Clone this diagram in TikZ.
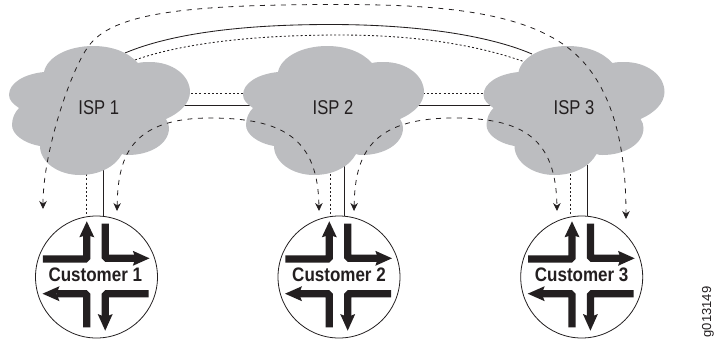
\documentclass[tikz,border=0pt]{standalone}
\usepackage{fontspec}
\setmainfont{Liberation Sans}
\usetikzlibrary{arrows.meta}
\definecolor{cloudgray}{RGB}{188,189,192}
\definecolor{inkblack}{RGB}{35,31,32}
\tikzset{
  solidlink/.style={draw=inkblack,line width=.85pt},
  dotlink/.style={draw=inkblack,line width=.85pt,dash pattern=on 2pt off 2.2pt},
  flow/.style={draw=inkblack,line width=.8pt,dash pattern=on 5pt off 5.5pt},
  bothtips/.style={{Stealth[length=8pt,width=7.5pt]}-{Stealth[length=8pt,width=7.5pt]}},
  custcircle/.style={circle,draw=inkblack,line width=.8pt,fill=white,minimum size=122pt,inner sep=0pt},
  bar/.style={draw=inkblack,line width=7.2pt,rounded corners=1.5pt},
  isplabel/.style={text=inkblack,inner sep=0pt,font=\fontsize{20}{20}\selectfont},
  custlabel/.style={text=inkblack,inner sep=0pt,font=\fontsize{17}{17}\selectfont\bfseries},
}
\newcommand{\cloudshape}[1]{%
  \begin{scope}[xshift=#1pt]
  \fill[cloudgray] (44,72) .. controls (47,57) and (68,46) .. (93,46)
    .. controls (112,46) and (128,52) .. (138,63)
    .. controls (142,62) and (146,62) .. (150,62)
    .. controls (172,62) and (190,75) .. (190,92)
    .. controls (190,103) and (180,113) .. (166,119)
    .. controls (168,122) and (169,125) .. (169,128)
    .. controls (169,144) and (150,155) .. (128,155)
    .. controls (126,155) and (124,155) .. (122,154)
    .. controls (115,167) and (99,175) .. (80,175)
    .. controls (58,175) and (40,162) .. (40,146)
    .. controls (23,143) and (12,134) .. (12,125)
    .. controls (12,118) and (15,112) .. (19,108)
    .. controls (13,104) and (9,100) .. (9,95)
    .. controls (9,83) and (24,74) .. (44,72) -- cycle;
  \end{scope}}
\newcommand{\routerarrows}[2]{%
  \begin{scope}[shift={(#1,#2)}]
  \draw[bar] (-53.7,-18) -| (-9.7,-44);
  \fill[inkblack] (-9.7,-55.7) -- (-2.2,-39.7) -- (-9.7,-42) -- (-17.2,-39.7) -- cycle;
  \draw[bar] (8.7,-53.3) |- (40,-18.7);
  \fill[inkblack] (53,-18.7) -- (36.3,-26.2) -- (39,-18.7) -- (36.3,-11.2) -- cycle;
  \draw[bar] (-9.7,50.3) |- (-40,16.7);
  \fill[inkblack] (-54,16.7) -- (-37,9.2) -- (-40,16.7) -- (-37,24.2) -- cycle;
  \draw[bar] (52,16.7) -| (8.7,40);
  \fill[inkblack] (8.7,53.7) -- (1.2,37) -- (8.7,40) -- (16.2,37) -- cycle;
  \end{scope}}
\begin{document}
\begin{tikzpicture}[x=1pt,y=-1pt]
\useasboundingbox (0,0) rectangle (714,341);
% anchors inside the clouds and free ends
\coordinate (a1) at (125,53);   \coordinate (a3) at (532,54);
\coordinate (b1) at (135,60);   \coordinate (b3) at (525,62);
\coordinate (h1r) at (170,105.5); \coordinate (h2l) at (260,105.5);
\coordinate (h2r) at (410,105.5); \coordinate (h3l) at (500,105.5);
\coordinate (d1r) at (170,93.5); \coordinate (d2l) at (260,93.5);
\coordinate (d2r) at (410,93.5); \coordinate (d3l) at (500,93.5);
\coordinate (u1s) at (103.5,165); \coordinate (u1d) at (86.5,170);
\coordinate (u2s) at (344.7,165); \coordinate (u2d) at (330.7,170);
\coordinate (u3s) at (587.3,165); \coordinate (u3d) at (570.7,170);
\coordinate (f0s) at (43,209);  \coordinate (f0e) at (626,219);
\coordinate (f1s) at (117,211); \coordinate (f1e) at (319,211);
\coordinate (f2s) at (354,211); \coordinate (f2e) at (557,211);
% customer circles
\node[custcircle] (c1) at (96.5,277) {};
\node[custcircle] (c2) at (339,277) {};
\node[custcircle] (c3) at (581.7,277) {};
% links behind the clouds
\draw[solidlink] (a1) .. controls (170,34) and (240,24.5) .. (330,24.5)
  .. controls (420,24.5) and (490,36) .. (a3);
\draw[dotlink] (b1) .. controls (180,44) and (250,35) .. (340,35)
  .. controls (420,35) and (480,46) .. (b3);
\draw[solidlink] (h1r) -- (h2l);
\draw[solidlink] (h2r) -- (h3l);
\draw[dotlink] (d1r) -- (d2l);
\draw[dotlink] (d2r) -- (d3l);
\draw[solidlink] (u1s) -- (u1s |- c1.north);
\draw[dotlink] (u1d) -- (u1d |- c1.north);
\draw[solidlink] (u2s) -- (u2s |- c2.north);
\draw[dotlink] (u2d) -- (u2d |- c2.north);
\draw[solidlink] (u3s) -- (u3s |- c3.north);
\draw[dotlink] (u3d) -- (u3d |- c3.north);
% clouds
\cloudshape{0}
\cloudshape{234}
\cloudshape{474.5}
\node[isplabel] (isp1) at (98.7,108) {\scalebox{.83}[1]{ISP 1}};
\node[isplabel] (isp2) at (333,108) {\scalebox{.83}[1]{ISP 2}};
\node[isplabel] (isp3) at (574,108) {\scalebox{.83}[1]{ISP 3}};
% dashed flows
\draw[flow,bothtips] (f0s)
  .. controls (43,150) and (72,68) .. (88,47)
  .. controls (112,12) and (190,4.5) .. (340,4.5)
  .. controls (440,4.5) and (520,12) .. (567,47)
  .. controls (603,74) and (626,125) .. (f0e);
\draw[flow,bothtips] (f1s)
  .. controls (118,160) and (128,118) .. (210,118)
  .. controls (285,118) and (318,140) .. (f1e);
\draw[flow,bothtips] (f2s)
  .. controls (355,155) and (370,118) .. (454,118)
  .. controls (525,118) and (556,140) .. (f2e);
% router arrows and labels
\routerarrows{96.5}{277}
\routerarrows{339}{277}
\routerarrows{581.7}{277}
\node[custlabel] (t1) at (95.3,275) {\scalebox{1}[1.15]{Customer 1}};
\node[custlabel] (t2) at (339,275) {\scalebox{1}[1.15]{Customer 2}};
\node[custlabel] (t3) at (581.7,275) {\scalebox{1}[1.15]{Customer 3}};
\node[text=inkblack,inner sep=0pt,rotate=90,font=\fontsize{13}{13}\selectfont] (code) at (708,312) {g013149};
\end{tikzpicture}
\end{document}
